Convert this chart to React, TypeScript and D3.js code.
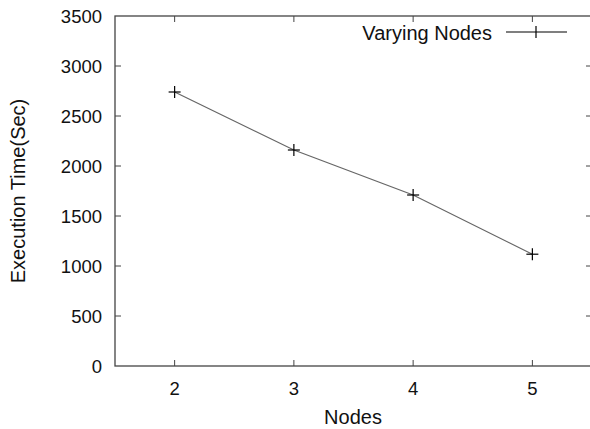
import { useMemo } from "react";
import * as d3 from "d3";

const nodes = [2, 3, 4, 5];
const execTime = [2740, 2160, 1710, 1118];
const yTicks = [0, 500, 1000, 1500, 2000, 2500, 3000, 3500];
const xTicks = [2, 3, 4, 5];
const seriesName = "Varying Nodes";

export default function App() {
  const width = 590;
  const height = 429;
  const left = 115;
  const right = 592;
  const top = 16;
  const bottom = 366;

  const x = useMemo(() => d3.scaleLinear().domain([1.5, 5.5]).range([left, right]), []);
  const y = useMemo(() => d3.scaleLinear().domain([0, 3500]).range([bottom, top]), []);

  const line = d3
    .line<number>()
    .x((_, i) => x(nodes[i]))
    .y((d) => y(d));

  const font = "'Liberation Sans', Arial, sans-serif";
  const frame = "#444";
  const tick = 6;

  return (
    <svg
      width={width}
      height={height}
      style={{ position: "absolute", left: 0, top: 0, background: "#fff" }}
      fontFamily={font}
    >
      {/* frame */}
      <rect x={left} y={top} width={right - left} height={bottom - top} fill="none" stroke={frame} strokeWidth={1.3} />

      {/* y ticks, mirrored on the right */}
      {yTicks.map((t) => (
        <g key={"y" + t}>
          {t > 0 && t < 3500 && (
            <>
              <line x1={left} x2={left + tick} y1={y(t)} y2={y(t)} stroke={frame} />
              <line x1={right - tick} x2={right} y1={y(t)} y2={y(t)} stroke={frame} />
            </>
          )}
          <text x={102} y={y(t)} dy="0.36em" textAnchor="end" fontSize={18.5} fill="#111">
            {t}
          </text>
        </g>
      ))}

      {/* x ticks, mirrored on the top */}
      {xTicks.map((t) => (
        <g key={"x" + t}>
          <line x1={x(t)} x2={x(t)} y1={bottom} y2={bottom - tick} stroke={frame} />
          <line x1={x(t)} x2={x(t)} y1={top} y2={top + tick} stroke={frame} />
          <text x={x(t)} y={395} textAnchor="middle" fontSize={18.5} fill="#111">
            {t}
          </text>
        </g>
      ))}

      {/* axis titles */}
      <text x={353} y={424} textAnchor="middle" fontSize={20} fill="#111">
        Nodes
      </text>
      <text
        transform="translate(25,191) rotate(-90)"
        textAnchor="middle"
        fontSize={20}
        fill="#111"
      >
        Execution Time(Sec)
      </text>

      {/* series */}
      <path d={line(execTime) ?? ""} fill="none" stroke="#666" strokeWidth={1.2} />
      {execTime.map((v, i) => (
        <g key={"p" + i} stroke="#000" strokeWidth={1.2}>
          <line x1={x(nodes[i]) - 6} x2={x(nodes[i]) + 6} y1={y(v)} y2={y(v)} />
          <line x1={x(nodes[i])} x2={x(nodes[i])} y1={y(v) - 6} y2={y(v) + 6} />
        </g>
      ))}

      {/* legend */}
      <text x={492} y={39.5} textAnchor="end" fontSize={20} fill="#111">
        {seriesName}
      </text>
      <g stroke="#000" strokeWidth={1.2}>
        <line x1={506} x2={567} y1={32} y2={32} />
        <line x1={536} x2={536} y1={26} y2={38} />
      </g>
    </svg>
  );
}
